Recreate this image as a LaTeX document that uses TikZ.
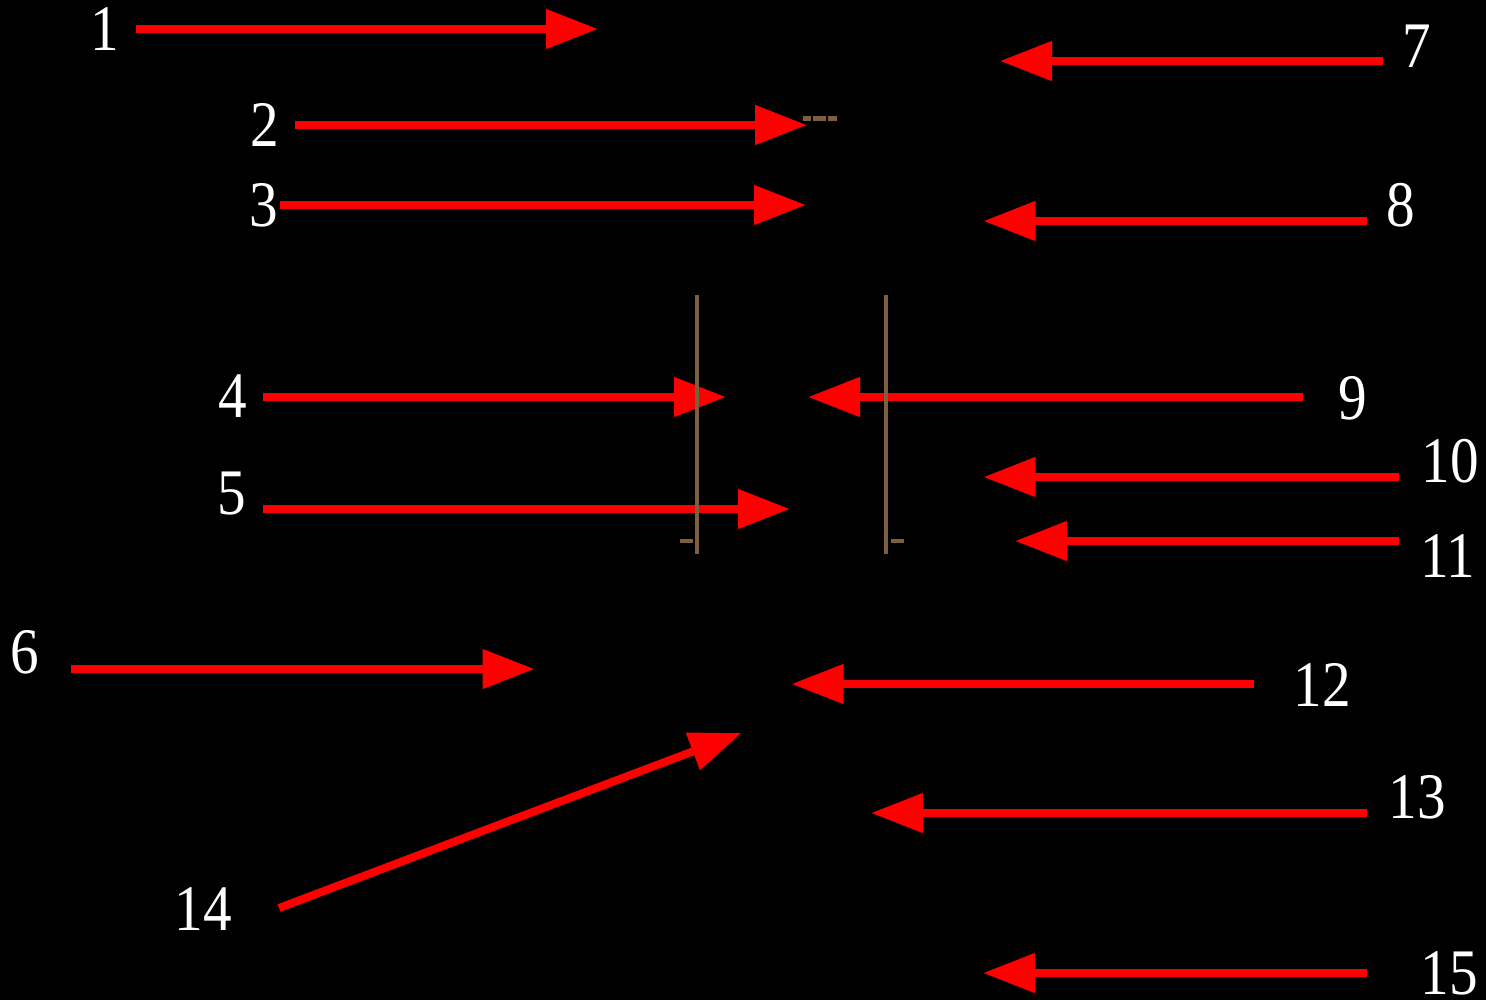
\documentclass[tikz,border=0pt]{standalone}
\usepackage{fontspec}
\setmainfont{Liberation Serif}
\newfontfamily\numfont{Liberation Serif}
\usetikzlibrary{arrows.meta}
\definecolor{arrowred}{RGB}{255,0,0}
\definecolor{woodbrown}{RGB}{125,95,62}
\newcommand\numtext[1]{\scalebox{0.88}[1]{#1}}
\tikzset{
  lbl/.style={text=white, inner sep=0pt, font=\numfont\fontsize{65pt}{70pt}\selectfont},
  redarrow/.style={draw=arrowred, line width=8pt, -{Triangle[length=52pt, width=38pt]}},
  brownline/.style={draw=woodbrown, line width=4pt},
  browntick/.style={draw=woodbrown, line width=3.5pt},
  browndash/.style={draw=woodbrown, line width=5pt, dash pattern=on 8pt off 2pt on 13pt off 2pt on 9pt off 20pt}
}
\begin{document}
\begin{tikzpicture}[x=1pt, y=-1pt]
\useasboundingbox (0,0) rectangle (1486,1000);
\fill[black] (0,0) rectangle (1486,1000);
% labels
\node[lbl] (l1) at (105,29) {\numtext{1}};
\node[lbl] (l2) at (264.5,125) {\numtext{2}};
\node[lbl] (l3) at (264,205.5) {\numtext{3}};
\node[lbl] (l4) at (232.5,396.5) {\numtext{4}};
\node[lbl] (l5) at (232,493.5) {\numtext{5}};
\node[lbl] (l6) at (25,652.5) {\numtext{6}};
\node[lbl] (l7) at (1417,46) {\numtext{7}};
\node[lbl] (l8) at (1401,205) {\numtext{8}};
\node[lbl] (l9) at (1353,398) {\numtext{9}};
\node[lbl] (l10) at (1450,461) {\numtext{10}};
\node[lbl] (l11) at (1448,556) {\numtext{11}};
\node[lbl] (l12) at (1322.5,685) {\numtext{12}};
\node[lbl] (l13) at (1417,797) {\numtext{13}};
\node[lbl] (l14) at (203,909) {\numtext{14}};
\node[lbl] (l15) at (1449.5,973.5) {\numtext{15}};
% arrow ends
\coordinate (s1) at (136,29);   \coordinate (t1) at (598,29);
\coordinate (s2) at (295,125);  \coordinate (t2) at (807,125);
\coordinate (s3) at (280,205);  \coordinate (t3) at (806,205);
\coordinate (s4) at (263,397);  \coordinate (t4) at (726,397);
\coordinate (s5) at (263,509);  \coordinate (t5) at (790,509);
\coordinate (s6) at (71,669);   \coordinate (t6) at (534.5,669);
\coordinate (s7) at (1383,61);  \coordinate (t7) at (1000,61);
\coordinate (s8) at (1367,221); \coordinate (t8) at (983.5,221);
\coordinate (s9) at (1303,397); \coordinate (t9) at (808,397);
\coordinate (s10) at (1399,477); \coordinate (t10) at (983.5,477);
\coordinate (s11) at (1399,541); \coordinate (t11) at (1015,541);
\coordinate (s12) at (1254,684); \coordinate (t12) at (791.5,684);
\coordinate (s13) at (1366.5,813); \coordinate (t13) at (871,813);
\coordinate (s14) at (279,908); \coordinate (t14) at (741.5,733);
\coordinate (s15) at (1366.5,973); \coordinate (t15) at (983,973);
\foreach \i in {1,...,15} {\draw[redarrow] (s\i) -- (t\i);}
% brown fittings
\coordinate (bl1) at (697,295); \coordinate (bl2) at (697,554);
\coordinate (br1) at (886,295); \coordinate (br2) at (886,554);
\coordinate (tl1) at (680,541); \coordinate (tl2) at (693,541);
\coordinate (tr1) at (891,541); \coordinate (tr2) at (904,541);
\coordinate (d1) at (803,119); \coordinate (d2) at (837,119);
\draw[brownline] (bl1) -- (bl2);
\draw[brownline] (br1) -- (br2);
\draw[browntick] (tl1) -- (tl2);
\draw[browntick] (tr1) -- (tr2);
\draw[browndash] (d1) -- (d2);
\end{tikzpicture}
\end{document}
